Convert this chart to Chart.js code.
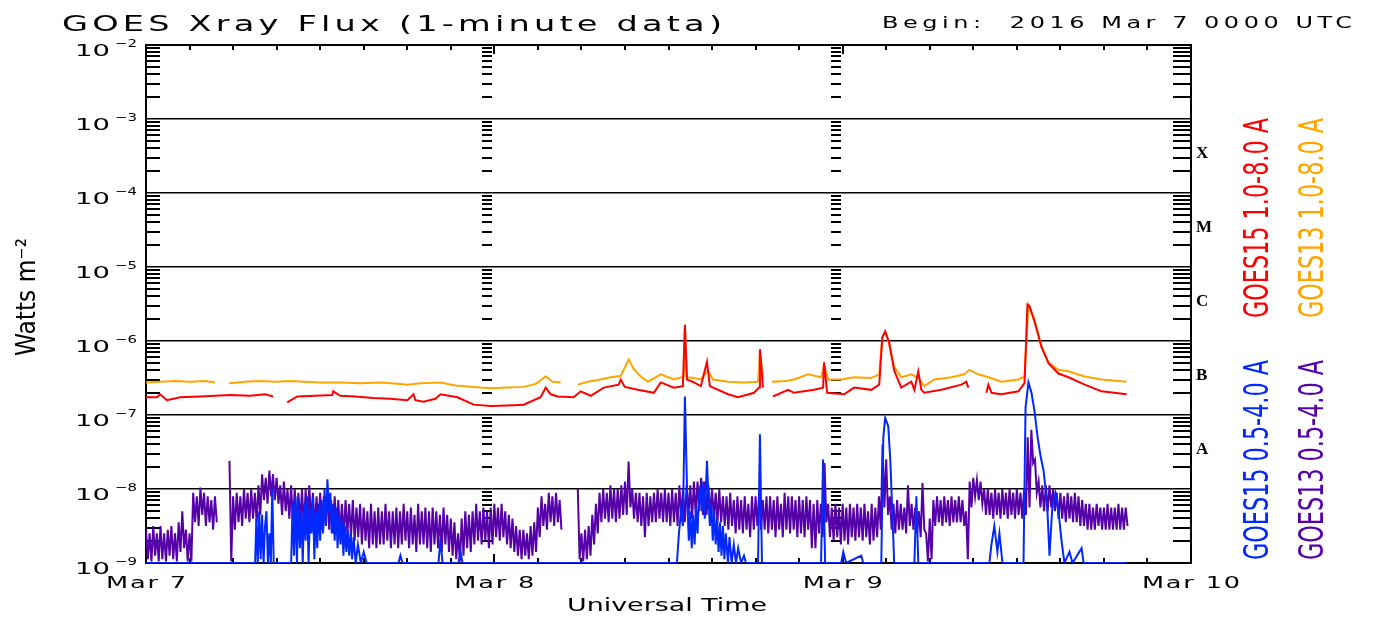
<!DOCTYPE html>
<html>
<head>
<meta charset="utf-8">
<title>GOES Xray Flux</title>
<script src="https://cdn.jsdelivr.net/npm/chart.js@4.4.1/dist/chart.umd.min.js"></script>
<style>
  html, body { margin: 0; padding: 0; background: #fff; }
  canvas { display: block; }
</style>
</head>
<body>
<canvas id="xray" width="1379" height="617"></canvas>
<script>
// TEXTS / AXES
const TITLE = "GOES Xray Flux (1-minute data)";
const BEGIN_TEXT = "Begin:  2016 Mar 7 0000 UTC";
const X_TITLE = "Universal Time";
const Y_TITLE = "Watts m\u207B\u00B2";

const dayHours = [0, 24, 48, 72];
const dayLabels = ["Mar 7", "Mar 8", "Mar 9", "Mar 10"];
const yTickExps = [-9, -8, -7, -6, -5, -4, -3, -2];
const yTickBase = "10";
const yTickExpLabels = ["\u22129", "\u22128", "\u22127", "\u22126", "\u22125", "\u22124", "\u22123", "\u22122"];
const flareClasses = ["A", "B", "C", "M", "X"];
const flareClassExps = [-8, -7, -6, -5, -4];

const seriesNames = ["GOES15 1.0-8.0 A", "GOES13 1.0-8.0 A", "GOES15 0.5-4.0 A", "GOES13 0.5-4.0 A"];

// DATA  (hours since 2016 Mar 7 00 UTC, log10 of flux in W m-2)
// GOES15 long channel (red)
const goes15LongLog = [
  [0,-6.76],[0.76,-6.76],[0.97,-6.72],[1.45,-6.8],[2.35,-6.76],[3.73,-6.75],[5.8,-6.73],[7.18,-6.74],
  [8.21,-6.72],[8.76,-6.75],[8.9,null],
  [9.73,-6.83],[10.42,-6.75],[11.66,-6.74],[12.84,-6.73],[12.9,-6.68],[13.39,-6.74],[14.42,-6.75],
  [15.67,-6.77],[16.84,-6.78],[18.01,-6.8],[18.43,-6.72],[18.56,-6.8],[19.12,-6.82],[19.94,-6.78],
  [20.29,-6.72],[21.46,-6.76],[22.57,-6.86],[23.74,-6.88],[24.91,-6.87],[26.02,-6.86],[27.19,-6.76],
  [27.54,-6.63],[27.88,-6.72],[28.36,-6.75],[29.47,-6.76],[29.95,-6.68],[30.64,-6.74],[31.54,-6.63],
  [32.57,-6.59],[32.71,-6.52],[32.99,-6.62],[33.89,-6.66],[34.99,-6.7],[35.47,-6.56],[36.37,-6.63],
  [36.99,-6.61],[37.13,-5.78],[37.27,-6.52],[37.75,-6.56],[38.23,-6.61],[38.65,-6.28],[38.85,-6.61],
  [40.1,-6.72],[40.79,-6.76],[41.89,-6.7],[42.24,-6.63],[42.3,-6.11],[42.51,-6.63],[42.7,null],
  [43.2,-6.75],[44.24,-6.66],[44.65,-6.7],[46.03,-6.66],[46.65,-6.63],[46.72,-6.29],[46.93,-6.7],
  [48.1,-6.72],[48.79,-6.63],[49.97,-6.66],[50.52,-6.59],[50.73,-5.95],[50.93,-5.87],[51.21,-6.02],
  [51.55,-6.4],[52.04,-6.63],[52.73,-6.55],[52.94,-6.66],[53.21,-6.41],[53.42,-6.66],[53.62,-6.7],
  [54.8,-6.66],[56.18,-6.59],[56.52,-6.55],[56.66,-6.63],[56.8,null],
  [57.9,-6.7],[58.04,-6.59],[58.25,-6.7],[58.94,-6.72],[60.11,-6.68],[60.53,-6.57],[60.73,-5.51],
  [60.87,-5.53],[61.22,-5.74],[61.7,-6.08],[62.18,-6.3],[62.87,-6.44],[63.56,-6.49],[64.67,-6.59],
  [65.84,-6.68],[67.56,-6.72]
];

// GOES13 long channel (orange)
const goes13LongLog = [
  [0,-6.56],[0.97,-6.55],[2.0,-6.54],[3.04,-6.55],[4.07,-6.54],[4.76,-6.56],[4.85,null],
  [5.73,-6.57],[6.83,-6.55],[7.87,-6.54],[8.9,-6.55],[9.94,-6.54],[10.97,-6.55],[12.0,-6.56],
  [13.39,-6.56],[14.77,-6.57],[16.15,-6.56],[17.53,-6.58],[18.0,-6.59],[18.91,-6.57],[20.29,-6.56],
  [21.33,-6.6],[22.57,-6.62],[23.74,-6.64],[24.91,-6.63],[26.02,-6.62],[26.85,-6.58],[27.54,-6.48],
  [28.02,-6.55],[28.57,-6.56],[28.7,null],
  [29.75,-6.59],[30.43,-6.55],[31.33,-6.52],[32.02,-6.49],[32.71,-6.47],[33.26,-6.25],[33.61,-6.38],
  [34.09,-6.48],[34.58,-6.55],[35.47,-6.45],[36.37,-6.52],[37.06,-6.48],[37.13,-5.79],[37.27,-6.49],
  [37.75,-6.5],[38.23,-6.52],[38.72,-6.4],[39.06,-6.52],[40.1,-6.55],[41.2,-6.56],[42.17,-6.55],
  [42.3,-6.12],[42.51,-6.5],[42.7,null],
  [43.13,-6.55],[44.1,-6.54],[44.65,-6.52],[45.62,-6.45],[46.51,-6.49],[46.72,-6.32],[47.0,-6.52],
  [47.9,-6.52],[48.79,-6.49],[49.97,-6.5],[50.52,-6.45],[50.73,-5.95],[50.93,-5.88],[51.21,-6.05],
  [51.55,-6.35],[52.04,-6.49],[52.73,-6.45],[53.21,-6.5],[53.62,-6.61],[54.31,-6.52],[55.49,-6.49],
  [56.38,-6.45],[56.73,-6.39],[57.35,-6.45],[58.04,-6.49],[58.94,-6.55],[60.11,-6.52],[60.53,-6.48],
  [60.8,-5.51],[61.22,-5.71],[61.7,-6.08],[62.18,-6.29],[62.87,-6.39],[63.56,-6.41],[64.67,-6.48],
  [65.84,-6.52],[67.56,-6.55]
];

// GOES15 short channel (blue), -9 = at or below the bottom of the plot
const goes15ShortLog = [
  [0,-9],[7.52,-9],[7.6,-8.4],[7.7,-9],[7.8,-8.3],[7.9,-8.95],[8.0,-8.35],[8.1,-9],[8.2,-8.5],
  [8.3,-8.3],[8.4,-9],[8.5,-8.6],[8.6,-9],[8.7,-7.99],[8.8,-9],[9.94,-9],
  [10.0,-9],[10.1,-8.2],[10.2,-8.9],[10.3,-8.1],[10.4,-9],[10.5,-8.15],[10.6,-8.8],[10.7,-8.3],
  [10.8,-9],[10.9,-8.2],[11.0,-8.7],[11.1,-8.1],[11.2,-9],[11.3,-8.25],[11.4,-8.6],[11.5,-8.1],
  [11.6,-8.95],[11.7,-8.3],[11.8,-8.8],[11.9,-8.2],[12.0,-8.7],[12.1,-8.15],[12.2,-8.6],[12.3,-8.0],
  [12.4,-8.5],[12.5,-7.87],[12.6,-8.3],[12.7,-8.05],[12.8,-8.6],[12.9,-8.2],[13.0,-8.7],[13.1,-8.25],
  [13.2,-8.8],[13.3,-8.35],[13.4,-8.75],[13.5,-8.4],[13.6,-8.9],[13.7,-8.5],[13.8,-8.85],[13.9,-8.55],
  [14.0,-8.9],[14.1,-8.6],[14.2,-8.95],[14.3,-8.65],[14.45,-9],[14.6,-8.75],[14.8,-9],[15.0,-8.85],
  [15.2,-9],[17.39,-9],[17.53,-8.9],[17.67,-9],[20.15,-9],[20.29,-8.68],[20.43,-9],[21.53,-9],
  [21.67,-8.85],[21.81,-9],[36.58,-9],[36.72,-8.6],[36.86,-8.3],[36.99,-8.5],[37.13,-6.75],
  [37.3,-8.2],[37.4,-8.7],[37.5,-8.3],[37.6,-8.8],[37.7,-8.35],[37.8,-8.75],[37.9,-8.25],[38.0,-8.6],
  [38.1,-8.1],[38.2,-7.95],[38.3,-8.3],[38.4,-7.9],[38.5,-8.4],[38.65,-7.62],[38.75,-8.1],[38.85,-8.5],
  [38.95,-8.2],[39.05,-8.7],[39.15,-8.3],[39.25,-8.75],[39.35,-8.4],[39.45,-8.85],[39.55,-8.45],
  [39.65,-8.9],[39.75,-8.5],[39.85,-8.95],[39.95,-8.6],[40.1,-9],[40.2,-8.65],[40.35,-9],[40.5,-8.75],
  [40.65,-9],[40.8,-8.8],[41.0,-9],[41.2,-8.9],[41.34,-9],[42.17,-9],[42.3,-7.26],[42.44,-9],
  [46.51,-9],[46.65,-7.6],[46.79,-9],[47.9,-9],[48.04,-8.85],[48.24,-9],[49.28,-8.9],[49.42,-9],
  [50.66,-9],[50.8,-7.3],[50.93,-7.04],[51.14,-7.15],[51.28,-7.6],[51.42,-8.3],[51.55,-9],[52.94,-9],
  [53.08,-8.1],[53.21,-9],[58.11,-9],[58.25,-8.75],[58.45,-8.5],[58.66,-8.85],[58.8,-8.6],[59.01,-9],
  [60.46,-9],[60.6,-6.9],[60.8,-6.56],[61.01,-6.7],[61.22,-6.95],[61.43,-7.3],[61.63,-7.55],
  [61.84,-7.75],[61.98,-8.0],[62.11,-8.3],[62.25,-8.9],[62.46,-8.2],[62.66,-8.05],[62.87,-8.3],
  [63.08,-8.7],[63.28,-9],[63.63,-8.85],[63.84,-9],[64.46,-8.8],[64.6,-9],[67.56,-9]
];

// GOES13 short channel (purple): [highest, lowest] log flux in each 15-minute slot from 00 UTC Mar 7
const SHORT13_SLOT_H = 0.25;
const goes13ShortBand = [
  [-8.55,-8.95],[-8.6,-8.98],[-8.5,-8.9],[-8.6,-8.98],   [-8.5,-8.95],[-8.6,-8.98],[-8.55,-8.9],[-8.5,-8.95],
  [-8.6,-8.98],[-8.45,-8.85],[-8.3,-8.8],[-8.55,-8.98],  [-8.6,-8.98],[-8.05,-8.45],[-8.1,-8.5],[-7.98,-8.35],
  [-8.05,-8.5],[-8.1,-8.45],[-8.15,-8.55],[-8.1,-8.45],  null,null,null,[-7.62,-8.98],
  [-8.1,-8.55],[-8.05,-8.45],[-8.1,-8.5],[-8.0,-8.4],    [-8.05,-8.45],[-8.0,-8.4],[-8.05,-8.45],[-7.95,-8.35],
  [-7.8,-8.15],[-7.85,-8.2],[-7.75,-8.1],[-7.8,-8.15],   [-7.85,-8.2],[-7.95,-8.35],[-7.9,-8.3],[-8.0,-8.4],
  [-7.95,-8.45],[-8.0,-8.5],[-8.05,-8.45],[-8.0,-8.55],  [-8.0,-8.5],[-7.95,-8.45],[-8.05,-8.55],[-8.1,-8.5],
  [-8.05,-8.55],[-8.1,-8.5],[-8.05,-8.55],[-8.15,-8.6],  [-8.1,-8.55],[-8.15,-8.6],[-8.2,-8.65],[-8.15,-8.6],
  [-8.2,-8.65],[-8.15,-8.7],[-8.25,-8.65],[-8.2,-8.75],  [-8.25,-8.7],[-8.3,-8.8],[-8.2,-8.75],[-8.3,-8.8],
  [-8.25,-8.75],[-8.3,-8.75],[-8.2,-8.7],[-8.3,-8.8],    [-8.3,-8.75],[-8.25,-8.8],[-8.3,-8.75],[-8.2,-8.7],
  [-8.3,-8.8],[-8.25,-8.75],[-8.35,-8.85],[-8.2,-8.75],  [-8.3,-8.75],[-8.25,-8.8],[-8.3,-8.85],[-8.25,-8.75],
  [-8.3,-8.8],[-8.35,-8.85],[-8.25,-8.75],[-8.35,-8.85], [-8.4,-8.9],[-8.45,-8.95],[-8.6,-8.98],[-8.4,-8.9],
  [-8.3,-8.8],[-8.35,-8.85],[-8.3,-8.75],[-8.2,-8.7],    [-8.3,-8.75],[-8.25,-8.7],[-8.3,-8.8],[-8.25,-8.75],
  [-8.2,-8.65],[-8.25,-8.7],[-8.2,-8.65],[-8.3,-8.75],   [-8.35,-8.8],[-8.4,-8.85],[-8.5,-8.9],[-8.55,-8.95],
  [-8.55,-8.9],[-8.6,-8.95],[-8.5,-8.9],[-8.45,-8.85],   [-8.25,-8.65],[-8.1,-8.5],[-8.2,-8.55],[-8.05,-8.45],
  [-8.1,-8.5],[-8.05,-8.45],[-8.15,-8.55],null,          null,null,null,[-8.0,-8.95],
  [-8.6,-8.98],[-8.55,-8.95],[-8.5,-8.9],[-8.35,-8.75],  [-8.2,-8.6],[-8.05,-8.45],[-8.0,-8.4],[-8.05,-8.45],
  [-7.95,-8.4],[-8.0,-8.45],[-8.0,-8.4],[-7.95,-8.35],   [-7.9,-8.35],[-7.63,-8.25],[-8.0,-8.4],[-8.05,-8.45],
  [-8.05,-8.5],[-8.1,-8.65],[-8.05,-8.5],[-8.1,-8.45],   [-8.05,-8.45],[-8.0,-8.4],[-8.05,-8.45],[-8.0,-8.45],
  [-8.05,-8.5],[-8.0,-8.45],[-8.05,-8.5],[-7.95,-8.4],   [-8.0,-8.45],[-7.95,-8.35],[-7.95,-8.4],[-7.9,-8.35],
  [-7.9,-8.3],[-7.85,-8.35],[-7.9,-8.35],[-7.95,-8.35],  [-8.0,-8.4],[-8.05,-8.45],[-8.0,-8.45],[-8.1,-8.5],
  [-8.1,-8.55],[-8.05,-8.5],[-8.15,-8.6],[-8.1,-8.55],   [-8.15,-8.6],[-8.1,-8.55],[-8.2,-8.65],[-8.1,-8.55],
  [-8.1,-8.5],[-8.05,-8.55],[-8.15,-8.55],[-8.1,-8.6],   [-8.1,-8.55],[-8.15,-8.65],[-8.1,-8.55],[-8.2,-8.65],
  [-8.05,-8.55],[-8.1,-8.6],[-8.1,-8.55],[-8.15,-8.65],  [-8.1,-8.6],[-8.15,-8.65],[-8.1,-8.55],[-8.15,-8.8],
  [-8.2,-8.8],[-8.15,-8.6],[-8.2,-8.65],[-7.65,-8.45],   [-8.2,-8.65],[-8.25,-8.7],[-8.2,-8.65],[-8.25,-8.75],
  [-8.2,-8.7],[-8.25,-8.75],[-8.2,-8.65],[-8.25,-8.7],   [-8.2,-8.65],[-8.25,-8.7],[-8.2,-8.65],[-8.3,-8.75],
  [-8.2,-8.7],[-8.25,-8.65],[-8.1,-8.55],[-7.4,-8.25],   [-7.6,-8.35],[-8.1,-8.55],[-8.2,-8.6],[-8.15,-8.55],
  [-8.2,-8.55],[-8.25,-8.6],[-7.95,-8.5],[-8.2,-8.55],   [-8.25,-8.6],[-8.3,-8.65],[-7.92,-8.55],[-8.6,-8.98],
  [-8.4,-8.95],[-8.15,-8.5],[-8.1,-8.45],[-8.15,-8.5],   [-8.1,-8.45],[-8.15,-8.5],[-8.1,-8.45],[-8.15,-8.45],
  [-8.1,-8.45],[-8.15,-8.5],[-8.3,-8.95],[-7.9,-8.25],   [-7.85,-8.1],[-7.88,-8.15],[-7.9,-8.2],[-8.0,-8.35],
  [-8.0,-8.35],[-8.05,-8.4],[-8.0,-8.35],[-8.05,-8.4],   [-8.0,-8.35],[-8.05,-8.4],[-8.0,-8.35],[-8.05,-8.4],
  [-8.0,-8.35],[-8.05,-8.4],[-8.0,-8.35],[-7.3,-8.25],   [-7.2,-7.65],[-7.6,-8.05],[-7.9,-8.25],[-7.95,-8.3],
  [-7.95,-8.3],[-7.95,-8.25],[-8.0,-8.3],[-8.05,-8.4],   [-8.05,-8.4],[-8.1,-8.45],[-8.05,-8.4],[-8.1,-8.45],
  [-8.05,-8.45],[-8.1,-8.5],[-8.15,-8.5],[-8.2,-8.55],   [-8.2,-8.55],[-8.25,-8.55],[-8.2,-8.5],[-8.25,-8.55],
  [-8.25,-8.55],[-8.2,-8.55],[-8.25,-8.55],[-8.25,-8.55],[-8.2,-8.55],[-8.25,-8.55],[-8.25,-8.5]
];

// COLORS / FONTS
const COLORS = {
  long15: "#ff0000",
  long13: "#ffa500",
  short15: "#0028ff",
  short13: "#5500a8",
  ink: "#000000",
};
const SANS = "'DejaVu Sans', 'Liberation Sans', sans-serif";
const SERIF = "'Liberation Serif', 'DejaVu Serif', serif";

// HELPERS
const toFlux = (e) => (e === null ? null : Math.pow(10, e));
const pairsToPoints = (pairs) => pairs.map(([h, e]) => ({ x: h, y: toFlux(e) }));
// each slot gives its high value at the slot start and its low value half a slot later
const bandToPoints = (band, step) =>
  band.flatMap((s, i) =>
    s === null
      ? [{ x: i * step, y: null }]
      : [{ x: i * step, y: toFlux(s[0]) }, { x: i * step + step / 2, y: toFlux(s[1]) }]
  );

// Work out a stretch + letter spacing so a sample string fills a given width
function fitFor(ctx, font, sample, width, maxStretch = 1.6) {
  ctx.font = font;
  ctx.letterSpacing = "0px";
  const w = ctx.measureText(sample).width;
  const sx = Math.min(maxStretch, width / w);
  const sp = Math.max(0, (width - w * sx) / Math.max(1, sample.length - 1) / sx);
  return { font, sx, sp };
}

function drawFitted(ctx, text, x, y, fit, align = "left", angle = 0) {
  ctx.save();
  ctx.font = fit.font;
  ctx.letterSpacing = fit.sp + "px";
  const raw = ctx.measureText(text).width - fit.sp;
  const total = raw * fit.sx;
  let off = 0;
  if (align === "center") off = -total / 2;
  else if (align === "right") off = -total;
  ctx.translate(x, y);
  if (angle) ctx.rotate(angle);
  ctx.scale(fit.sx, 1);
  ctx.textAlign = "left";
  ctx.fillText(text, off / fit.sx, 0);
  ctx.restore();
}

// DECORATION PLUGIN (frame, log minor ticks, hour ticks, texts)
const goesDecor = {
  id: "goesDecor",
  beforeDatasetsDraw(chart) {
    const { ctx, chartArea: a, scales: { x, y } } = chart;
    ctx.save();
    ctx.strokeStyle = COLORS.ink;
    ctx.lineWidth = 2;
    ctx.beginPath();
    yTickExps.slice(0, -1).forEach((e) => {
      for (let m = 2; m <= 9; m++) {
        const py = Math.round(y.getPixelForValue(m * Math.pow(10, e)));
        ctx.moveTo(a.left, py); ctx.lineTo(a.left + 14, py);
        ctx.moveTo(a.right - 18, py); ctx.lineTo(a.right, py);
        dayHours.slice(1, -1).forEach((h) => {
          const px = Math.round(x.getPixelForValue(h));
          ctx.moveTo(px - 12, py); ctx.lineTo(px - 2, py);
        });
      }
    });
    for (let h = 3; h < 72; h += 3) {
      const px = Math.round(x.getPixelForValue(h));
      const len = h % 24 === 0 ? 9 : 5;
      ctx.moveTo(px, a.top); ctx.lineTo(px, a.top + len);
      ctx.moveTo(px, a.bottom); ctx.lineTo(px, a.bottom - len);
    }
    ctx.stroke();
    ctx.strokeRect(a.left, a.top, a.right - a.left, a.bottom - a.top);
    ctx.restore();
  },
  afterDraw(chart) {
    const { ctx, chartArea: a, scales: { x, y } } = chart;
    ctx.save();
    ctx.fillStyle = COLORS.ink;
    ctx.textBaseline = "alphabetic";

    // title + begin time
    drawFitted(ctx, TITLE, 62, 31, fitFor(ctx, "21px " + SANS, TITLE, 660));
    drawFitted(ctx, BEGIN_TEXT, 882, 28, fitFor(ctx, "15px " + SANS, BEGIN_TEXT, 470));

    // y tick labels: "10" with a raised exponent
    const baseFit = fitFor(ctx, "15px " + SANS, yTickBase, 35, 2.0);
    const expFit = fitFor(ctx, "11px " + SANS, yTickExpLabels[7], 22, 1.8);
    yTickExps.forEach((e, i) => {
      const py = y.getPixelForValue(Math.pow(10, e));
      drawFitted(ctx, yTickBase, 75, py + 10.5, baseFit);
      drawFitted(ctx, yTickExpLabels[i], 115, py + 1.5, expFit);
    });

    // x tick labels + axis title
    const xFit = fitFor(ctx, "16px " + SANS, dayLabels[0], 80);
    dayHours.forEach((h, i) => {
      drawFitted(ctx, dayLabels[i], x.getPixelForValue(h), 588, xFit, "center");
    });
    drawFitted(ctx, X_TITLE, 667, 611, fitFor(ctx, "18px " + SANS, X_TITLE, 200), "center");

    // y axis title (rotated)
    drawFitted(ctx, Y_TITLE, 35, 356, fitFor(ctx, "26px " + SANS, Y_TITLE, 118), "left", -Math.PI / 2);

    // flare class letters
    ctx.font = "bold 17px " + SERIF;
    ctx.textBaseline = "middle";
    ctx.textAlign = "left";
    flareClasses.forEach((c, i) => {
      const py = y.getPixelForValue(Math.pow(10, flareClassExps[i] + 0.5)) - 2;
      ctx.fillText(c, a.right + 5, py);
    });

    // vertical legend
    ctx.textBaseline = "alphabetic";
    const legend = [
      { text: seriesNames[0], color: COLORS.long15, bx: 1268, by: 318 },
      { text: seriesNames[1], color: COLORS.long13, bx: 1323, by: 318 },
      { text: seriesNames[2], color: COLORS.short15, bx: 1268, by: 560 },
      { text: seriesNames[3], color: COLORS.short13, bx: 1323, by: 560 },
    ];
    legend.forEach((l) => {
      ctx.fillStyle = l.color;
      drawFitted(ctx, l.text, l.bx, l.by, fitFor(ctx, "34px " + SANS, l.text, 200), "left", -Math.PI / 2);
    });
    ctx.restore();
  },
};

// CHART
const lineStyle = (color) => ({
  borderColor: color,
  backgroundColor: color,
  borderWidth: 2,
  pointRadius: 0,
  tension: 0,
  spanGaps: false,
  fill: false,
});

new Chart(document.getElementById("xray"), {
  type: "line",
  data: {
    datasets: [
      { label: seriesNames[0], data: pairsToPoints(goes15LongLog), ...lineStyle(COLORS.long15) },
      { label: seriesNames[2], data: pairsToPoints(goes15ShortLog), ...lineStyle(COLORS.short15) },
      { label: seriesNames[1], data: pairsToPoints(goes13LongLog), ...lineStyle(COLORS.long13) },
      { label: seriesNames[3], data: bandToPoints(goes13ShortBand, SHORT13_SLOT_H), ...lineStyle(COLORS.short13) },
    ],
  },
  options: {
    responsive: false,
    animation: false,
    devicePixelRatio: 1,
    layout: { padding: { top: 45, right: 188, bottom: 0, left: 0 } },
    plugins: { legend: { display: false }, tooltip: { enabled: false } },
    scales: {
      x: {
        type: "linear",
        min: 0,
        max: 72,
        ticks: { display: false, stepSize: 24 },
        grid: { display: false, drawTicks: false },
        border: { display: false },
        afterFit: (s) => { s.height = 54; },
      },
      y: {
        type: "logarithmic",
        min: 1e-9,
        max: 1e-2,
        afterBuildTicks: (s) => { s.ticks = yTickExps.map((e) => ({ value: Math.pow(10, e) })); },
        ticks: { display: false },
        grid: { color: COLORS.ink, lineWidth: 1.6, drawTicks: false },
        border: { display: false },
        afterFit: (s) => { s.width = 146; },
      },
    },
  },
  plugins: [goesDecor],
});
</script>
</body>
</html>
